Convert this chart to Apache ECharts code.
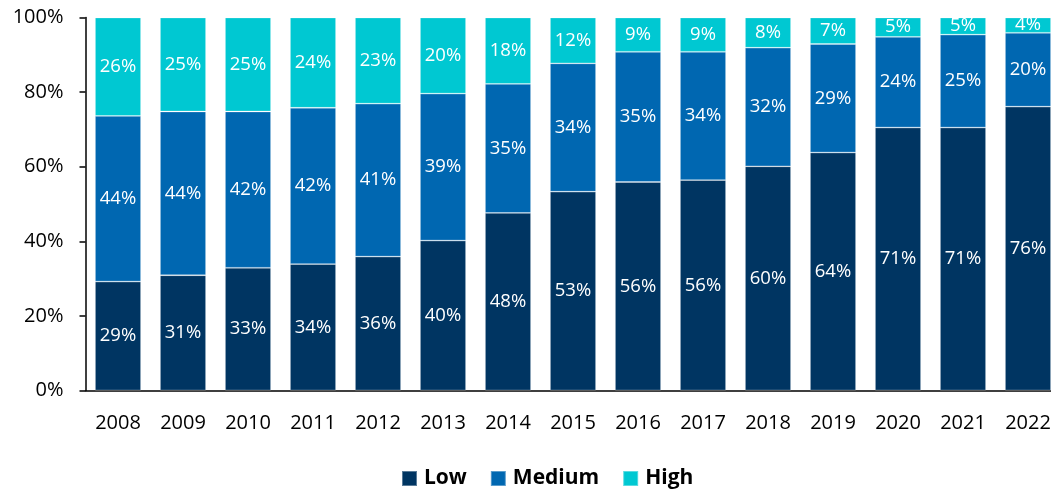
<!DOCTYPE html>
<html>
<head>
<meta charset="utf-8">
<script src="https://cdn.jsdelivr.net/npm/echarts@6/dist/echarts.min.js"></script>
<style>
html,body{margin:0;padding:0;background:#fff;overflow:hidden;}
#chart{width:1062px;height:490px;}
</style>
</head>
<body>
<div id="chart"></div>
<script>
const categories = ['2008','2009','2010','2011','2012','2013','2014','2015','2016','2017','2018','2019','2020','2021','2022'];
const lowValues    = [29.2, 30.9, 32.9, 33.9, 35.9, 40.2, 47.6, 53.3, 55.9, 56.4, 60.1, 63.8, 70.5, 70.5, 76.1];
const mediumValues = [44.4, 43.9, 41.9, 41.9, 41.0, 39.4, 34.6, 34.4, 34.9, 34.4, 31.8, 29.1, 24.3, 24.9, 19.8];
const highValues   = [26.4, 25.2, 25.2, 24.2, 23.1, 20.4, 17.8, 12.3,  9.2,  9.2,  8.1,  7.1,  5.2,  4.6,  4.1];
const yTicks = [0, 20, 40, 60, 80, 100];

const FONT = 'Open Sans';
const colors = {Low: '#003562', Medium: '#0067B1', High: '#00C8D2'};

function makeSeries(name, data) {
  return {
    name: name,
    type: 'bar',
    stack: 'total',
    barWidth: 46,
    data: data,
    itemStyle: {color: colors[name], borderColor: 'rgba(255,255,255,0.35)', borderWidth: 0.8},
    label: {
      show: true,
      position: 'inside',
      color: '#ffffff',
      fontFamily: FONT,
      fontSize: 18.5,
      formatter: p => Math.round(p.value) + '%'
    }
  };
}

const chart = echarts.init(document.getElementById('chart'), null, {renderer: 'canvas'});
chart.setOption({
  animation: false,
  backgroundColor: '#ffffff',
  grid: {left: 85.5, top: 17.5, width: 975, height: 373, containLabel: false},
  legend: {
    data: ['Low', 'Medium', 'High'],
    left: 396,
    top: 463,
    itemWidth: 15,
    itemHeight: 15,
    itemGap: 23,
    icon: 'rect',
    textStyle: {fontFamily: FONT, fontSize: 21, fontWeight: 'bold', color: '#000', padding: [0, 0, 0, 2]}
  },
  xAxis: {
    type: 'category',
    data: categories,
    axisLine: {lineStyle: {color: '#000', width: 1.5}},
    axisTick: {show: false},
    axisLabel: {color: '#000', fontFamily: FONT, fontSize: 20, margin: 23}
  },
  yAxis: {
    type: 'value',
    min: yTicks[0],
    max: yTicks[yTicks.length - 1],
    interval: yTicks[1] - yTicks[0],
    axisLine: {show: true, lineStyle: {color: '#000', width: 1.5}},
    axisTick: {show: true, length: 6, lineStyle: {color: '#000', width: 1.5}},
    splitLine: {show: false},
    axisLabel: {color: '#000', fontFamily: FONT, fontSize: 20, margin: 22, formatter: '{value}%'}
  },
  series: [
    makeSeries('Low', lowValues),
    makeSeries('Medium', mediumValues),
    makeSeries('High', highValues)
  ]
});
</script>
</body>
</html>
